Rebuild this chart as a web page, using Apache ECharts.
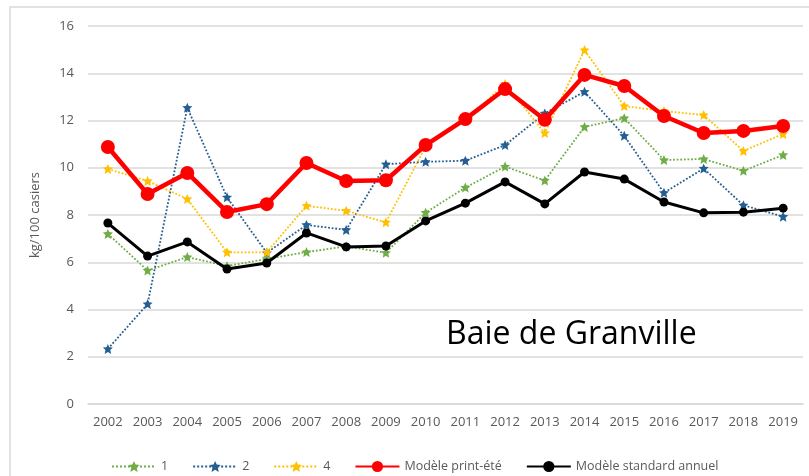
<!DOCTYPE html>
<html>
<head>
<meta charset="utf-8">
<script src="https://cdn.jsdelivr.net/npm/echarts@6/dist/echarts.min.js"></script>
<style>
html,body{margin:0;padding:0;background:#fff;}
#chart{width:809px;height:476px;}
</style>
</head>
<body>
<div id="chart"></div>
<script>
// années
var annees = ['2002','2003','2004','2005','2006','2007','2008','2009','2010','2011','2012','2013','2014','2015','2016','2017','2018','2019'];
// séries (kg/100 casiers)
var serie1 = [7.2, 5.65, 6.22, 5.84, 6.14, 6.43, 6.67, 6.4, 8.1, 9.16, 10.05, 9.46, 11.73, 12.1, 10.33, 10.37, 9.87, 10.54];
var serie2 = [2.33, 4.23, 12.54, 8.75, 6.4, 7.58, 7.37, 10.15, 10.25, 10.3, 10.96, 12.3, 13.22, 11.35, 8.94, 9.97, 8.41, 7.93];
var serie4 = [9.95, 9.44, 8.68, 6.42, 6.42, 8.39, 8.18, 7.69, 10.9, 12.0, 13.55, 11.47, 14.98, 12.61, 12.4, 12.23, 10.71, 11.43];
var printEte = [10.88, 8.89, 9.78, 8.13, 8.46, 10.2, 9.44, 9.47, 10.96, 12.06, 13.33, 12.03, 13.93, 13.46, 12.19, 11.47, 11.56, 11.77];
var standardAnnuel = [7.66, 6.26, 6.86, 5.71, 5.97, 7.24, 6.65, 6.69, 7.75, 8.5, 9.4, 8.47, 9.82, 9.52, 8.55, 8.09, 8.12, 8.29];
// graduations
var yMin = 0, yMax = 16, yPas = 2;

// marqueur étoile (style Excel)
var etoile = 'path://M50,0 L64,32 L100,36 L74,60 L82,100 L50,80 L18,100 L26,60 L0,36 L36,32 Z';
var police = '"Open Sans", "Noto Sans", sans-serif';
var gris = '#595959';

var myChart = echarts.init(document.getElementById('chart'));

function serieTiretee(nom, data, couleur){
	return {
		name: nom,
		type: 'line',
		data: data,
		symbol: etoile,
		symbolSize: 10,
		lineStyle: {color: couleur, width: 1.8, type: 'dotted'},
		itemStyle: {color: couleur},
		z: 2
	};
}

var option = {
	animation: false,
	textStyle: {fontFamily: police},
	graphic: [{
		type: 'rect',
		shape: {x: 10, y: 7, width: 900, height: 600},
		style: {fill: 'none', stroke: '#d9d9d9', lineWidth: 1.5},
		silent: true
	}, {
		type: 'text',
		left: 446,
		top: 319,
		style: {text: 'Baie de Granville', fill: '#000', font: '32px ' + police}
	}],
	grid: {left: 88, right: 6, top: 26, bottom: 72},
	legend: {
		left: 106,
		top: 455,
		itemWidth: 44,
		itemHeight: 14,
		itemGap: 24,
		textStyle: {color: gris, fontSize: 12.5, fontFamily: police},
		data: ['1', '2', '4', 'Modèle print-été', 'Modèle standard annuel']
	},
	xAxis: {
		type: 'category',
		data: annees,
		boundaryGap: true,
		axisLine: {lineStyle: {color: '#d9d9d9', width: 1.5}},
		axisTick: {show: false},
		axisLabel: {color: gris, fontSize: 13, margin: 12, interval: 0}
	},
	yAxis: {
		type: 'value',
		min: yMin,
		max: yMax,
		interval: yPas,
		name: 'kg/100 casiers',
		nameLocation: 'middle',
		nameGap: 46,
		nameTextStyle: {color: gris, fontSize: 13},
		axisLine: {show: false},
		axisTick: {show: false},
		axisLabel: {color: gris, fontSize: 13, margin: 14},
		splitLine: {lineStyle: {color: '#d9d9d9', width: 1.5}}
	},
	series: [
		serieTiretee('1', serie1, '#70AD47'),
		serieTiretee('2', serie2, '#255E91'),
		serieTiretee('4', serie4, '#FFC000'),
		{
			name: 'Modèle print-été',
			type: 'line',
			data: printEte,
			symbol: 'circle',
			symbolSize: 14,
			lineStyle: {color: '#FF0000', width: 4.5},
			itemStyle: {color: '#FF0000'},
			z: 4
		},
		{
			name: 'Modèle standard annuel',
			type: 'line',
			data: standardAnnuel,
			symbol: 'circle',
			symbolSize: 9,
			lineStyle: {color: '#000', width: 3},
			itemStyle: {color: '#000'},
			z: 3
		}
	]
};
myChart.setOption(option);
</script>
</body>
</html>
